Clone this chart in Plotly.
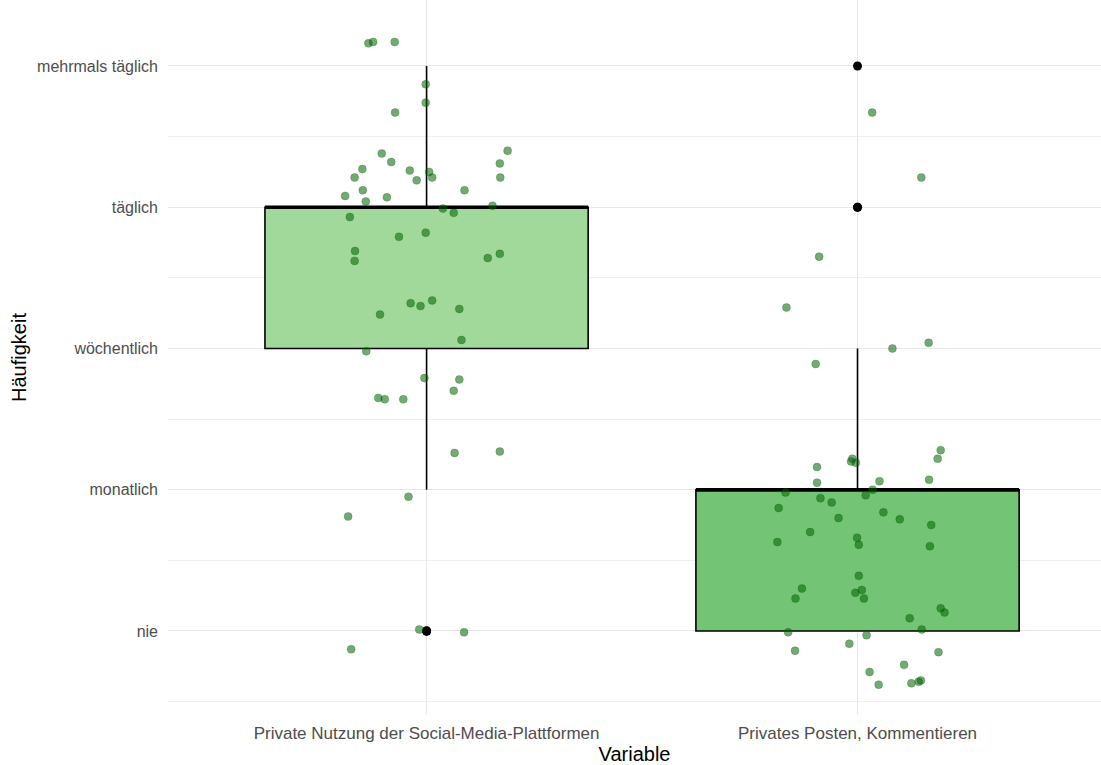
import numpy as np
import plotly.graph_objects as go

# Kategorien und Skala
variablen = ["Private Nutzung der Social-Media-Plattformen", "Privates Posten, Kommentieren"]
stufen = ["nie", "monatlich", "wöchentlich", "täglich", "mehrmals täglich"]

# Einzelantworten (gejittert): horizontaler Versatz und Wert auf der Skala 1..5
nutzung_dx = [-0.135, -0.124, -0.074, -0.002, -0.002, -0.073, -0.104, -0.082, -0.149, -0.167,
              -0.039, -0.023, 0.006, 0.013, -0.148, -0.189, -0.092, -0.141, 0.088, 0.188,
              0.170, 0.171, 0.038, 0.063, 0.153, -0.178, -0.064, -0.002, -0.166, -0.167,
              0.142, 0.170, -0.037, -0.014, 0.013, 0.076, -0.108, 0.081, -0.140, -0.005,
              0.076, 0.063, -0.112, -0.097, -0.054, 0.065, 0.170, -0.042, -0.182, -0.017,
              0.087, -0.175]
nutzung_y = [5.16, 5.17, 5.17, 4.87, 4.74, 4.67, 4.38, 4.32, 4.27, 4.21,
             4.26, 4.19, 4.25, 4.21, 4.12, 4.08, 4.07, 4.04, 4.12, 4.40,
             4.31, 4.21, 3.99, 3.96, 4.01, 3.93, 3.79, 3.82, 3.69, 3.62,
             3.64, 3.67, 3.32, 3.30, 3.34, 3.28, 3.24, 3.06, 2.98, 2.79,
             2.78, 2.70, 2.65, 2.64, 2.64, 2.26, 2.27, 1.95, 1.81, 1.01,
             0.99, 0.87]

posten_dx = [0.034, 0.148, -0.089, -0.165, -0.097, 0.081, 0.165, 0.193, 0.186, -0.012,
             -0.015, -0.004, -0.094, -0.094, 0.051, 0.166, 0.035, -0.167, 0.019, -0.086,
             -0.060, -0.183, -0.044, 0.060, 0.098, 0.171, -0.110, -0.186, -0.001, 0.003,
             0.168, 0.003, -0.129, -0.144, -0.005, 0.010, 0.015, 0.193, 0.202, 0.121,
             0.149, -0.161, 0.021, -0.019, -0.145, 0.188, 0.108, 0.028, 0.049, 0.125,
             0.142, 0.147]
posten_y = [4.67, 4.21, 3.65, 3.29, 2.89, 3.00, 3.04, 2.28, 2.22, 2.22,
            2.20, 2.19, 2.16, 2.05, 2.06, 2.07, 2.00, 1.98, 1.96, 1.94,
            1.91, 1.87, 1.80, 1.84, 1.79, 1.75, 1.70, 1.63, 1.66, 1.61,
            1.60, 1.39, 1.30, 1.23, 1.27, 1.29, 1.23, 1.16, 1.13, 1.09,
            1.01, 0.99, 0.97, 0.91, 0.86, 0.85, 0.76, 0.71, 0.62, 0.63,
            0.64, 0.65]

box_farben = ["#a1d99b", "#74c476"]
punkt_farbe = "rgba(0,100,0,0.55)"
box_breite = 0.75

gruppen = [(nutzung_dx, nutzung_y), (posten_dx, posten_y)]

fig = go.Figure()

for i, (dx, yj) in enumerate(gruppen):
    pos = i + 1
    antworten = np.rint(np.array(yj))  # ursprüngliche Antwortstufe
    fig.add_trace(go.Box(
        x=[pos] * len(antworten), y=antworten,
        width=box_breite, fillcolor=box_farben[i],
        line=dict(color="black", width=1.6),
        boxpoints="outliers", quartilemethod="linear",
        marker=dict(color="black", size=9, line=dict(width=0)),
        whiskerwidth=0, showlegend=False, hoverinfo="skip",
    ))
    median = float(np.median(antworten))
    fig.add_trace(go.Scatter(
        x=[pos - box_breite / 2, pos + box_breite / 2], y=[median, median],
        mode="lines", line=dict(color="black", width=3.4),
        showlegend=False, hoverinfo="skip",
    ))

for i, (dx, yj) in enumerate(gruppen):
    pos = i + 1
    fig.add_trace(go.Scatter(
        x=[pos + d for d in dx], y=yj, mode="markers",
        marker=dict(color=punkt_farbe, size=8, line=dict(color="rgba(0,90,0,0.3)", width=0.8)),
        showlegend=False, hoverinfo="skip",
    ))

fig.update_layout(
    width=1101, height=765,
    margin=dict(l=168, r=0, t=0, b=50),
    paper_bgcolor="white", plot_bgcolor="white",
    font=dict(family="Liberation Sans, Arial, sans-serif", color="black"),
    boxmode="overlay",
)

fig.update_xaxes(
    range=[0.4, 2.565], tickvals=[1, 2], ticktext=variablen,
    showgrid=True, gridcolor="#e8e8e8", gridwidth=1.3,
    zeroline=False, showline=False, ticks="",
    ticklabelstandoff=6,
    tickfont=dict(size=17, color="#4d4d4d"),
    title=dict(text="Variable", font=dict(size=20, color="black"), standoff=5),
    automargin=False,
)

fig.update_yaxes(
    range=[0.405, 5.467], tickvals=[1, 2, 3, 4, 5], ticktext=stufen,
    showgrid=True, gridcolor="#e8e8e8", gridwidth=1.3,
    minor=dict(tick0=0.5, dtick=1, showgrid=True, gridcolor="#efefef", gridwidth=1),
    zeroline=False, showline=False, ticks="",
    ticklabelstandoff=9,
    tickfont=dict(size=16, color="#4d4d4d"),
    title=dict(text="Häufigkeit", font=dict(size=20, color="black"), standoff=5),
    automargin=False,
)

fig.write_html("out.html")
